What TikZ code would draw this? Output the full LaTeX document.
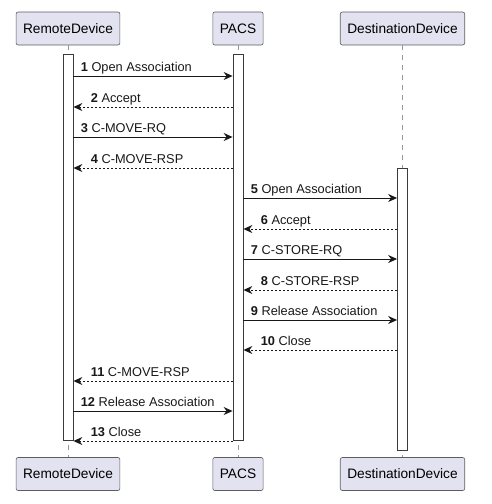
\documentclass[tikz,border=0pt]{standalone}
\usepackage{fontspec}
\setmainfont{Liberation Sans}
\usetikzlibrary{arrows.meta, positioning}
\usepackage{xcolor}
\definecolor{umlbox}{HTML}{E2E2F0}
\definecolor{umlline}{HTML}{181818}
\tikzstyle{actor} = [rectangle, rounded corners=2pt, draw=umlline!70, line width=0.6pt, fill=umlbox, minimum width=0pt, minimum height=33pt, inner xsep=7pt, font=\fontsize{13.7}{16}\selectfont]
\tikzstyle{bar}   = [rectangle, draw=umlline!85, line width=0.8pt, fill=white, minimum width=10pt, inner sep=0pt]
\tikzstyle{life}  = [umlline!45, line width=0.6pt, dash pattern=on 5pt off 5pt]
\tikzstyle{msg}   = [umlline, line width=0.9pt, -{Stealth[length=9pt, width=8pt, inset=3pt]}]
\tikzstyle{reply} = [msg, dash pattern=on 2pt off 2pt]
\tikzstyle{lbl}   = [anchor=base west, inner sep=0pt, yshift=5pt, font=\fontsize{12.8}{15}\selectfont]

\begin{document}
\begin{tikzpicture}[x=1pt, y=-1pt]
        \useasboundingbox (0,0) rectangle (492,504);

        % participants
        \node (remote)  [actor] at (68,28.5)  {RemoteDevice};
        \node (pacs)    [actor] at (238,28.5) {PACS};
        \node (dest)    [actor] at (402.5,28.5) {DestinationDevice};
        \node (remoteB) [actor] at (68,474)   {RemoteDevice};
        \node (pacsB)   [actor] at (238,474)  {PACS};
        \node (destB)   [actor] at (402.5,474) {DestinationDevice};

        \draw [life] (remote) -- (remoteB);
        \draw [life] (pacs)   -- (pacsB);
        \draw [life] (dest)   -- (destB);

        % activations
        \node (rbar) [bar, minimum height=386pt] at (68,247)  {};
        \node (pbar) [bar, minimum height=386pt] at (238,247) {};
        \node (dbar) [bar, minimum height=282pt] at (402.5,309) {};

        % messages
        \draw [msg]   (rbar.east |- 0,76)  -- node[lbl, pos=0, xshift=7pt]  {\textbf{1} Open Association} (pbar.west |- 0,76);
        \draw [reply] (pbar.west |- 0,107) -- node[lbl, pos=1, xshift=17pt] {\textbf{2} Accept} (rbar.east |- 0,107);
        \draw [msg]   (rbar.east |- 0,137) -- node[lbl, pos=0, xshift=7pt]  {\textbf{3} C-MOVE-RQ} (pbar.west |- 0,137);
        \draw [reply] (pbar.west |- 0,168) -- node[lbl, pos=1, xshift=17pt] {\textbf{4} C-MOVE-RSP} (rbar.east |- 0,168);
        \draw [msg]   (pbar.east |- 0,198) -- node[lbl, pos=0, xshift=7pt]  {\textbf{5} Open Association} (dbar.west |- 0,198);
        \draw [reply] (dbar.west |- 0,229) -- node[lbl, pos=1, xshift=17pt] {\textbf{6} Accept} (pbar.east |- 0,229);
        \draw [msg]   (pbar.east |- 0,259) -- node[lbl, pos=0, xshift=7pt]  {\textbf{7} C-STORE-RQ} (dbar.west |- 0,259);
        \draw [reply] (dbar.west |- 0,290) -- node[lbl, pos=1, xshift=17pt] {\textbf{8} C-STORE-RSP} (pbar.east |- 0,290);
        \draw [msg]   (pbar.east |- 0,320) -- node[lbl, pos=0, xshift=7pt]  {\textbf{9} Release Association} (dbar.west |- 0,320);
        \draw [reply] (dbar.west |- 0,350) -- node[lbl, pos=1, xshift=17pt] {\textbf{10} Close} (pbar.east |- 0,350);
        \draw [reply] (pbar.west |- 0,381) -- node[lbl, pos=1, xshift=17pt] {\textbf{11} C-MOVE-RSP} (rbar.east |- 0,381);
        \draw [msg]   (rbar.east |- 0,411) -- node[lbl, pos=0, xshift=7pt]  {\textbf{12} Release Association} (pbar.west |- 0,411);
        \draw [reply] (pbar.west |- 0,441) -- node[lbl, pos=1, xshift=17pt] {\textbf{13} Close} (rbar.east |- 0,441);
    \end{tikzpicture}
\end{document}
